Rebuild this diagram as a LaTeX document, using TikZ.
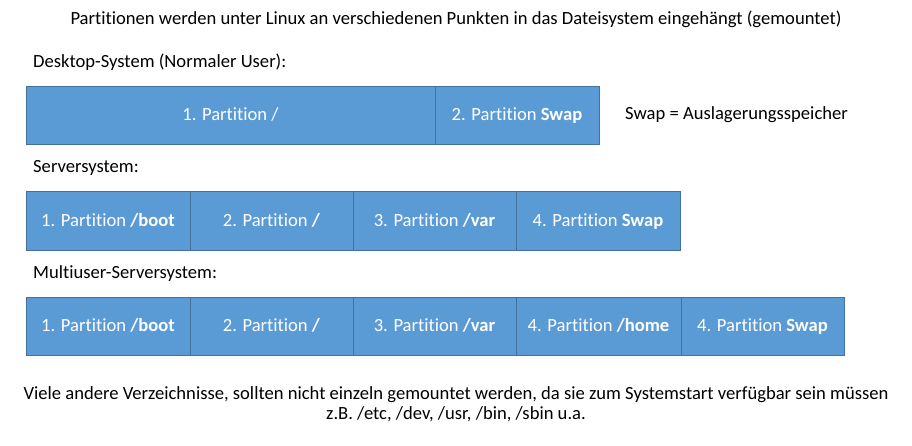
\documentclass[tikz,border=0pt]{standalone}
\usepackage{fontspec}
\setmainfont[Ligatures=NoCommon]{Carlito}
\definecolor{pfill}{HTML}{5B9BD5}
\definecolor{pline}{HTML}{41719C}
\begin{document}
\begin{tikzpicture}[x=1pt,y=-1pt,
  part/.style={draw=pline,line width=1pt,fill=pfill,text=white,font=\fontsize{18.6}{22}\selectfont},
  ptxt/.style={text=white,font=\fontsize{18.6}{22}\selectfont,text height=0.72em,text depth=0.22em,inner sep=0pt,yshift=-3pt},
  lbl/.style={font=\fontsize{18.6}{22}\selectfont,text=black,inner sep=0pt}]
\useasboundingbox[fill=white] (0,0) rectangle (912,445);
\node[lbl] (title) at (456,19) {Partitionen werden unter Linux an verschiedenen Punkten in das Dateisystem eingehängt (gemountet)};
\node[lbl,anchor=west] (l1) at (33,62) {Desktop-System (Normaler User):};
\node[lbl,anchor=west] (l2) at (33,168) {Serversystem:};
\node[lbl,anchor=west] (l3) at (33,274) {Multiuser-Serversystem:};
% row 1
\draw[part] (26,86) rectangle (435,144) node[midway,ptxt] (d1) {1. Partition /};
\draw[part] (435,86) rectangle (599,144) node[midway,ptxt] (d2) {2. Partition \textbf{Swap}};
\node[lbl,anchor=west] (swap) at (625,115) {Swap = Auslagerungsspeicher};
% row 2
\draw[part] (26,191) rectangle (190,250) node[midway,ptxt] (s1) {1. Partition \textbf{/boot}};
\draw[part] (190,191) rectangle (353,250) node[midway,ptxt] (s2) {2. Partition \textbf{/}};
\draw[part] (353,191) rectangle (516,250) node[midway,ptxt] (s3) {3. Partition \textbf{/var}};
\draw[part] (516,191) rectangle (680,250) node[midway,ptxt] (s4) {4. Partition \textbf{Swap}};
% row 3
\draw[part] (26,297) rectangle (190,355) node[midway,ptxt] (m1) {1. Partition \textbf{/boot}};
\draw[part] (190,297) rectangle (353,355) node[midway,ptxt] (m2) {2. Partition \textbf{/}};
\draw[part] (353,297) rectangle (516,355) node[midway,ptxt] (m3) {3. Partition \textbf{/var}};
\draw[part] (516,297) rectangle (681,355) node[midway,ptxt] (m4) {4. Partition \textbf{/home}};
\draw[part] (681,297) rectangle (844,355) node[midway,ptxt] (m5) {4. Partition \textbf{Swap}};
% bottom
\node[lbl] (b1) at (456,395) {Viele andere Verzeichnisse, sollten nicht einzeln gemountet werden, da sie zum Systemstart verfügbar sein müssen};
\node[lbl] (b2) at (456,414) {z.B. /etc, /dev, /usr, /bin, /sbin u.a.};
\end{tikzpicture}
\end{document}
